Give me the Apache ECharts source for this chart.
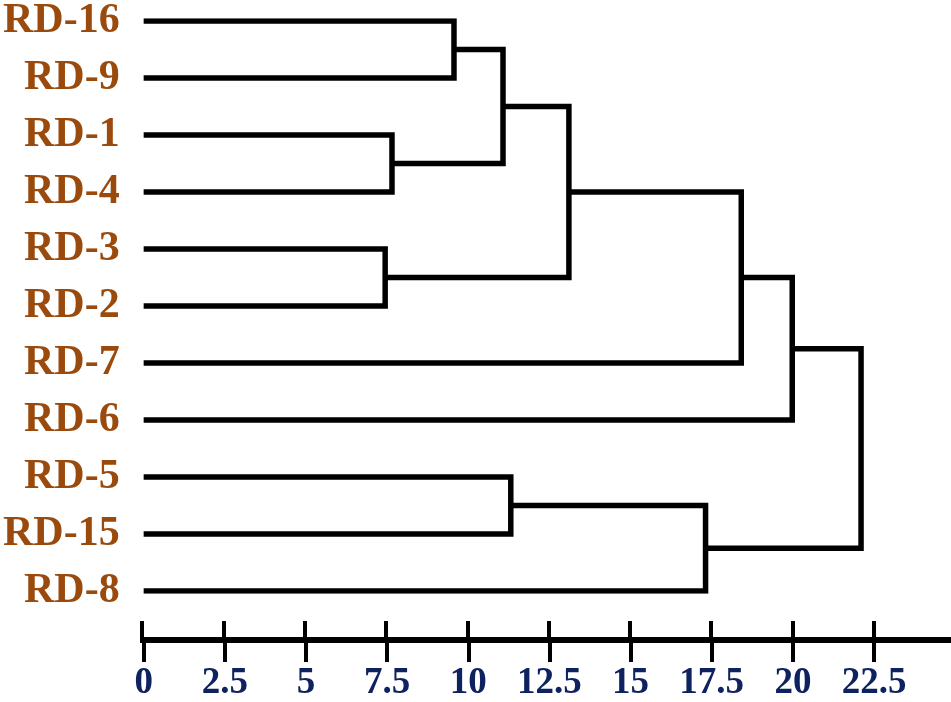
<!DOCTYPE html>
<html>
<head>
<meta charset="utf-8">
<script src="https://cdn.jsdelivr.net/npm/echarts@6/dist/echarts.min.js"></script>
<style>
  html, body { margin: 0; padding: 0; background: #fff; }
  #dendro { width: 951px; height: 702px; }
</style>
</head>
<body>
<div id="dendro"></div>
<script>
// leaves, top to bottom
const leaves = ['RD-16', 'RD-9', 'RD-1', 'RD-4', 'RD-3', 'RD-2', 'RD-7', 'RD-6', 'RD-5', 'RD-15', 'RD-8'];
// merges: node index 0..10 = leaves, 11.. = merged clusters in this order
const mergeLeft = [0, 2, 4, 11, 14, 15, 16, 8, 18, 17];
const mergeRight = [1, 3, 5, 12, 13, 6, 7, 9, 10, 19];
const mergeHeight = [9.56, 7.65, 7.44, 11.07, 13.1, 18.41, 19.98, 11.31, 17.31, 22.1];
const tickValues = [0, 2.5, 5, 7.5, 10, 12.5, 15, 17.5, 20, 22.5];

// node positions: x = merge height, y = leaf order (mean of children)
let nodeX = leaves.map(() => 0);
let nodeY = leaves.map((l, i) => i);
let series = [];
for (let k = 0; k < mergeHeight.length; k++) {
    const a = mergeLeft[k], b = mergeRight[k], h = mergeHeight[k];
    series.push({
        type: 'line',
        xAxisIndex: 0,
        yAxisIndex: 0,
        symbol: 'none',
        silent: true,
        lineStyle: { color: '#000', width: 5.5, join: 'miter', cap: 'butt' },
        data: [[nodeX[a], nodeY[a]], [h, nodeY[a]], [h, nodeY[b]], [nodeX[b], nodeY[b]]]
    });
    nodeX.push(h);
    nodeY.push((nodeY[a] + nodeY[b]) / 2);
}

const chart = echarts.init(document.getElementById('dendro'));
const xMax = 24.84;
const serif = '"Liberation Serif", "Times New Roman", serif';
chart.setOption({
    animation: false,
    backgroundColor: '#fff',
    grid: [
        { left: 142, right: 1, top: 14, bottom: 108, containLabel: false },
        // second grid only carries the upper half of the crossing ticks
        { left: 142, right: 1, bottom: 59, height: 30, containLabel: false }
    ],
    xAxis: [{
        type: 'value',
        gridIndex: 0,
        position: 'bottom',
        offset: 49,
        min: 0,
        max: xMax,
        splitLine: { show: false },
        axisLine: { onZero: false, lineStyle: { color: '#000', width: 6 } },
        axisTick: { show: true, length: 22, inside: false, customValues: tickValues,
            lineStyle: { color: '#000', width: 4 } },
        axisLabel: { customValues: tickValues, margin: 25, color: '#0f2260',
            fontFamily: serif, fontWeight: 'bold', fontSize: 37 }
    }, {
        type: 'value',
        gridIndex: 1,
        position: 'bottom',
        min: 0,
        max: xMax,
        splitLine: { show: false },
        axisLine: { show: false, onZero: false },
        axisTick: { show: true, length: 22, inside: true, customValues: tickValues,
            lineStyle: { color: '#000', width: 4 } },
        axisLabel: { show: false }
    }],
    yAxis: [{
        type: 'value',
        gridIndex: 0,
        inverse: true,
        min: 0,
        max: leaves.length - 1,
        interval: 1,
        splitLine: { show: false },
        axisLine: { show: false },
        axisTick: { show: false },
        axisLabel: {
            margin: 24,
            color: '#9a4a0c',
            fontFamily: serif,
            fontWeight: 'bold',
            fontSize: 42,
            formatter: function(v) { return leaves[v] || ''; }
        }
    }, {
        type: 'value',
        gridIndex: 1,
        show: false
    }],
    series: series
});
</script>
</body>
</html>
